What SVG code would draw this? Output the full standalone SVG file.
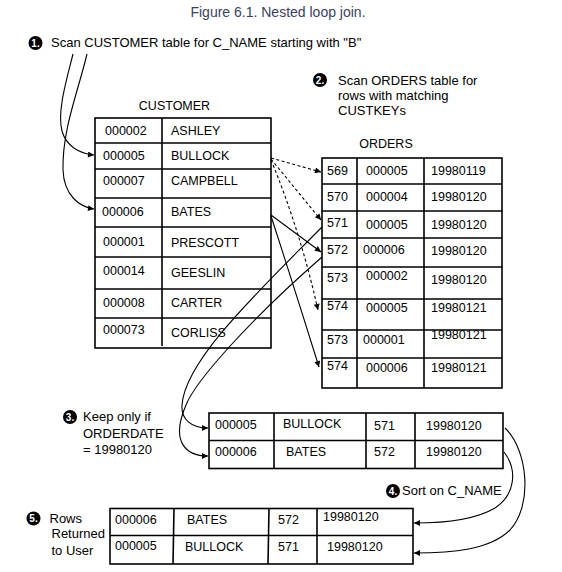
<svg xmlns="http://www.w3.org/2000/svg" width="562" height="572" viewBox="0 0 562 572">
<defs>
<marker id="ah" viewBox="0 0 10 10" refX="10" refY="5" markerUnits="userSpaceOnUse" markerWidth="10" markerHeight="6" orient="auto">
<path d="M0,0 L10,5 L0,10 z" fill="#000"/>
</marker>
</defs>
<style>
text{font-family:"Liberation Sans",Arial,sans-serif;fill:#000}
.t{font-size:12.5px}
.l{font-size:13px}
.n{font-size:10px;font-weight:bold;fill:#fff;text-anchor:middle}
.g{fill:none;stroke:#000;stroke-width:1.6}
.c{fill:none;stroke:#000;stroke-width:1.1}
.d{stroke-dasharray:3,2.5}
.a{marker-end:url(#ah)}
</style>
<rect width="562" height="572" fill="#fff"/>

<g id="title">
<text x="278" y="17" style="font-size:14px;fill:#3a4260" text-anchor="middle">Figure 6.1. Nested loop join.</text>
</g>

<g id="step1">
<circle cx="35.5" cy="43" r="7" fill="#000"/>
<text class="n" x="35.5" y="46.6">1.</text>
<text class="l" x="51" y="47">Scan CUSTOMER table for C_NAME starting with "B"</text>
</g>

<g id="step2">
<circle cx="320" cy="80" r="7" fill="#000"/>
<text class="n" x="320" y="83.6">2.</text>
<text class="l" x="338" y="85">Scan ORDERS table for</text>
<text class="l" x="338" y="100">rows with matching</text>
<text class="l" x="338" y="115">CUSTKEYs</text>
</g>

<g id="customer">
<text class="t" x="174.5" y="110" text-anchor="middle">CUSTOMER</text>
<rect class="g" x="95" y="118" width="176" height="230"/>
<path class="g" d="M162,118 V346 M95,143 H271 M95,169 H271 M95,198 H271 M95,227 H271 M95,257 H271 M95,289 H271 M95,318 H271"/>
<text class="t" x="105" y="135">000002</text><text class="t" x="171" y="135">ASHLEY</text>
<text class="t" x="103" y="159.5">000005</text><text class="t" x="171" y="159.5">BULLOCK</text>
<text class="t" x="103" y="184.5">000007</text><text class="t" x="171" y="185">CAMPBELL</text>
<text class="t" x="102" y="216">000006</text><text class="t" x="171" y="216">BATES</text>
<text class="t" x="103" y="246">000001</text><text class="t" x="171" y="247">PRESCOTT</text>
<text class="t" x="103" y="275">000014</text><text class="t" x="171" y="277">GEESLIN</text>
<text class="t" x="103" y="306.5">000008</text><text class="t" x="171" y="306.5">CARTER</text>
<text class="t" x="103" y="333.5">000073</text><text class="t" x="171" y="336.5">CORLISS</text>
</g>

<g id="orders">
<text class="t" x="386" y="148" text-anchor="middle">ORDERS</text>
<rect class="g" x="322" y="158" width="180" height="230"/>
<path class="g" d="M357,158 V388 M424,158 V388 M322,184 H502 M322,211 H502 M322,238 H502 M322,267 H502 M322,299 H502 M322,330 H502 M322,358 H502"/>
<text class="t" x="327" y="175">569</text><text class="t" x="366" y="175">000005</text><text class="t" x="431" y="175">19980119</text>
<text class="t" x="327" y="201">570</text><text class="t" x="366" y="201">000004</text><text class="t" x="431" y="201">19980120</text>
<text class="t" x="327" y="227">571</text><text class="t" x="366" y="228.5">000005</text><text class="t" x="431" y="228.5">19980120</text>
<text class="t" x="327" y="254">572</text><text class="t" x="363" y="254">000006</text><text class="t" x="431" y="255">19980120</text>
<text class="t" x="327" y="282">573</text><text class="t" x="366" y="280">000002</text><text class="t" x="431" y="283.5">19980120</text>
<text class="t" x="327" y="310">574</text><text class="t" x="366" y="312">000005</text><text class="t" x="431" y="312">19980121</text>
<text class="t" x="327" y="343.5">573</text><text class="t" x="363" y="343.5">000001</text><text class="t" x="431" y="338.5">19980121</text>
<text class="t" x="327" y="370">574</text><text class="t" x="366" y="372">000006</text><text class="t" x="431" y="372">19980121</text>
</g>

<g id="step3">
<circle cx="70" cy="417" r="7" fill="#000"/>
<text class="n" x="70" y="420.6">3.</text>
<text class="l" x="83" y="421">Keep only if</text>
<text class="l" x="83" y="437.5">ORDERDATE</text>
<text class="l" x="83" y="454">= 19980120</text>
</g>

<g id="filtered">
<rect class="g" x="209" y="413" width="294" height="55.5"/>
<path class="g" d="M274,413 V468.5 M366,413 V468.5 M415,413 V468.5 M209,440.5 H503"/>
<text class="t" x="215" y="429">000005</text><text class="t" x="283" y="428">BULLOCK</text><text class="t" x="374" y="430">571</text><text class="t" x="426" y="430">19980120</text>
<text class="t" x="215" y="456">000006</text><text class="t" x="286" y="456">BATES</text><text class="t" x="374" y="456">572</text><text class="t" x="426" y="456">19980120</text>
</g>

<g id="step4">
<circle cx="393" cy="491" r="7" fill="#000"/>
<text class="n" x="393" y="494.6">4.</text>
<text class="l" x="402" y="495">Sort on C_NAME</text>
</g>

<g id="step5">
<circle cx="33.5" cy="518.5" r="7" fill="#000"/>
<text class="n" x="33.5" y="522.1">5.</text>
<text class="l" x="49.5" y="523">Rows</text>
<text class="l" x="51.5" y="538">Returned</text>
<text class="l" x="51.5" y="554.5">to User</text>
</g>

<g id="result">
<rect class="g" x="110" y="508.5" width="303" height="55.5"/>
<path class="g" d="M174,508.5 L173,564 M269,508.5 L268,564 M317,508.5 V564 M110,535.5 H413"/>
<text class="t" x="115" y="524">000006</text><text class="t" x="187" y="524">BATES</text><text class="t" x="278" y="524">572</text><text class="t" x="323" y="521">19980120</text>
<text class="t" x="115" y="549.5">000005</text><text class="t" x="185" y="551">BULLOCK</text><text class="t" x="278" y="551">571</text><text class="t" x="327" y="551">19980120</text>
</g>

<g id="connectors">
<path class="c a" d="M73,54 C66,82 57,112 62,131 C66,146 80,154 94,155"/>
<path class="c a" d="M87,54 C78,92 62,130 63,170 C64,196 80,207 94,209"/>
<path class="c d a" d="M271,158 L321,172"/>
<path class="c d a" d="M271,159 L321,220"/>
<path class="c d a" d="M271,160 Q300,230 318,310"/>
<path class="c a" d="M271,215 L321,252"/>
<path class="c a" d="M271,216 Q295,290 319,367"/>
<path class="c a" d="M322,227 C260,290 185,360 182,405 C181,420 192,428 208,428"/>
<path class="c a" d="M322,257 C252,318 196,380 186,405 C170,442 186,456 208,456"/>
<path class="c a" d="M505,428 C528,450 533,505 510,530 C490,550 452,553 414,553"/>
<path class="c a" d="M504,452 C518,470 515,495 495,508 C475,520 445,523 414,523"/>
</g>
</svg>
